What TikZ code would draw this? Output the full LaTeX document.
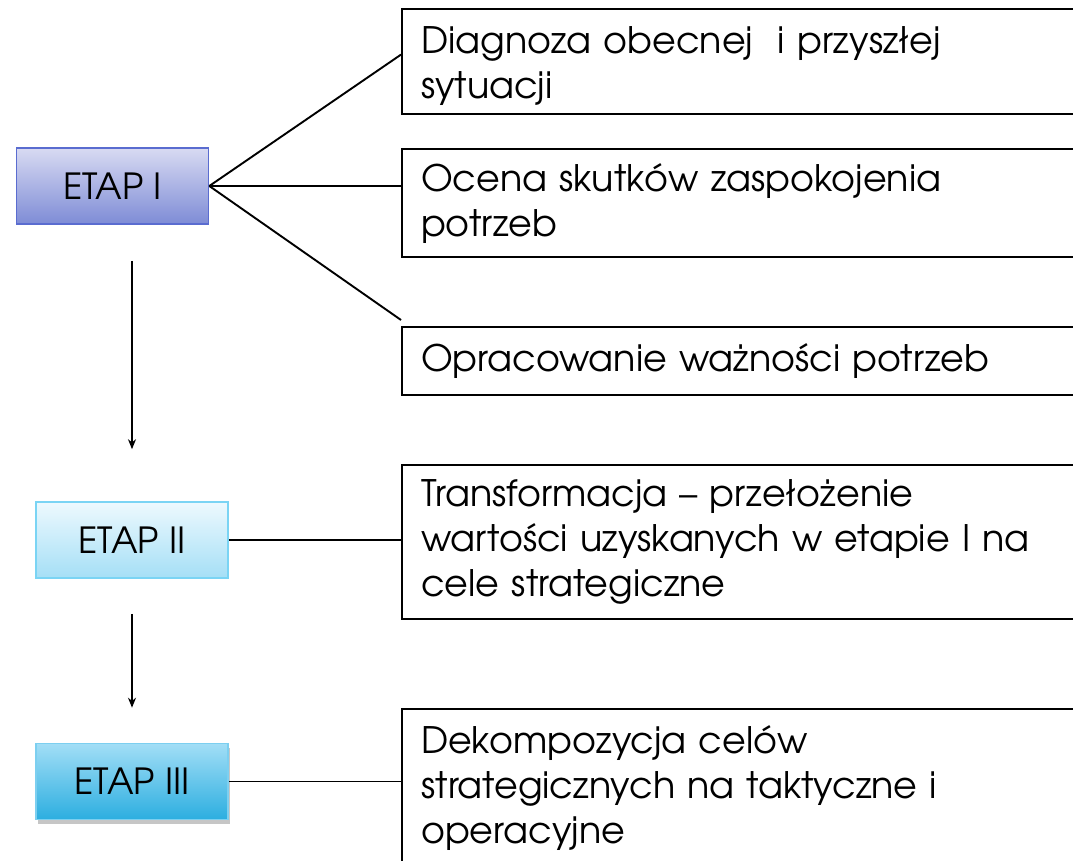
\documentclass[tikz,border=0pt]{standalone}
\usepackage{fontspec}
\setmainfont{TeX Gyre Adventor}
\usetikzlibrary{arrows.meta,shadows}
\definecolor{etapAtop}{HTML}{D8DAF2}
\definecolor{etapAbot}{HTML}{7E8CD6}
\definecolor{etapAline}{HTML}{5A6CD0}
\definecolor{etapBtop}{HTML}{EDF9FE}
\definecolor{etapBbot}{HTML}{A5DFF6}
\definecolor{etapBline}{HTML}{7AD4F4}
\definecolor{etapCtop}{HTML}{A2DEF6}
\definecolor{etapCbot}{HTML}{2CAEE0}
\definecolor{etapCline}{HTML}{7CCFF0}
\begin{document}
\begin{tikzpicture}[x=1pt,y=-1pt,>={Stealth[length=10pt,width=8pt]}]
  \tikzstyle{etap}=[draw, line width=1.6pt, minimum width=192pt, minimum height=76pt, inner sep=0pt, font=\fontsize{36}{42}\selectfont]
  \tikzstyle{opis}=[draw, line width=2.2pt, anchor=north west, text width=642pt, inner xsep=19pt, inner ysep=0pt, align=left, font=\fontsize{36.5}{45}\selectfont]
  \tikzstyle{link}=[line width=1.9pt]
  \clip (0,0) rectangle (1073,861);

  \node[etap, top color=etapAtop, bottom color=etapAbot, draw=etapAline] (etap1) at (112.5,186) {ETAP I};
  \node[etap, top color=etapBtop, bottom color=etapBbot, draw=etapBline] (etap2) at (132,540) {ETAP II};
  \node[etap, top color=etapCtop, bottom color=etapCbot, draw=etapCline, drop shadow={shadow xshift=2pt, shadow yshift=-4pt, opacity=0.45}] (etap3) at (132,781.5) {ETAP III};

  \node[opis, minimum height=105pt] (diag) at (401,8) {\rule{0pt}{35pt}Diagnoza obecnej\ \ i przyszłej\\sytuacji};
  \node[opis, minimum height=108pt] (ocena) at (401,148) {Ocena skutków zaspokojenia\\potrzeb};
  \node[opis, minimum height=68pt] (wazn) at (401,326) {Opracowanie ważności potrzeb};
  \node[opis, minimum height=154pt] (transf) at (401,464) {Transformacja – przełożenie\\wartości uzyskanych w etapie I na\\cele strategiczne};
  \node[opis, minimum height=158pt] (dekomp) at (401,708) {Dekompozycja celów\\strategicznych na taktyczne i\\operacyjne};

  \draw[link] (etap1.east) -- ([yshift=7pt]diag.west);
  \draw[link] (etap1.east) -- (etap1.east -| ocena.west);
  \draw[link] (etap1.east) -- ([yshift=6pt]wazn.north west);
  \draw[link] (etap2.east) -- (etap2.east -| transf.west);
  \draw[link] (etap3.east) -- (etap3.east -| dekomp.west);

  \draw[line width=1.6pt,->,shorten <=36pt,shorten >=52pt] (etap1.south -| etap2.north) -- (etap2.north);
  \draw[line width=1.6pt,->,shorten <=35pt,shorten >=35pt] (etap2.south) -- (etap3.north);
\end{tikzpicture}
\end{document}
